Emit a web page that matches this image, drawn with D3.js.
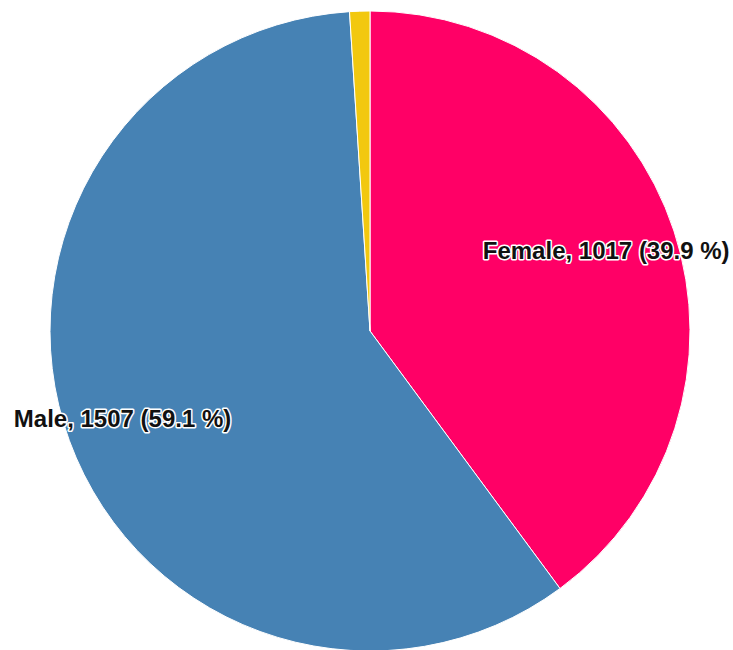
<!DOCTYPE html>
<meta charset="utf-8">
<style>
  body { margin: 0; background: #fff; }
  .label {
    font-family: Arial, "Liberation Sans", sans-serif;
    font-weight: bold;
    font-size: 24px;
    fill: #111;
    stroke: #fff;
    stroke-width: 3px;
    stroke-linejoin: round;
    paint-order: stroke;
  }
</style>
<body></body>
<script src="https://d3js.org/d3.v7.min.js"></script>
<script>
  var categories = ["Female", "Male", "Unknown"];
  var counts = [1017, 1507, 26];
  var colors = ["#ff0066", "#4682b4", "#f2c80f"];

  var width = 733, height = 650;
  var cx = 370, cy = 331, radius = 320;

  var data = categories.map(function(c, i) { return { name: c, value: counts[i] }; });
  var total = d3.sum(counts);

  var svg = d3.select("body").append("svg")
    .attr("width", width)
    .attr("height", height);

  var g = svg.append("g").attr("transform", "translate(" + cx + "," + cy + ")");

  var pie = d3.pie().sort(null).value(function(d) { return d.value; });
  var arc = d3.arc().innerRadius(0).outerRadius(radius);
  var labelArc = d3.arc().innerRadius(radius * 0.8).outerRadius(radius * 0.8);

  var arcs = pie(data);

  g.selectAll("path")
    .data(arcs)
    .enter().append("path")
    .attr("d", arc)
    .attr("fill", function(d, i) { return colors[i]; })
    .attr("stroke", "#fff")
    .attr("stroke-width", 1);

  // small slices get no label
  g.selectAll("text")
    .data(arcs.filter(function(d) { return d.endAngle - d.startAngle > 0.2; }))
    .enter().append("text")
    .attr("class", "label")
    .attr("transform", function(d) { return "translate(" + labelArc.centroid(d) + ")"; })
    .attr("dx", -7)
    .attr("dy", "0.35em")
    .attr("text-anchor", "middle")
    .text(function(d) {
      return d.data.name + ", " + d.data.value + " (" + (d.data.value / total * 100).toFixed(1) + " %)";
    });
</script>
